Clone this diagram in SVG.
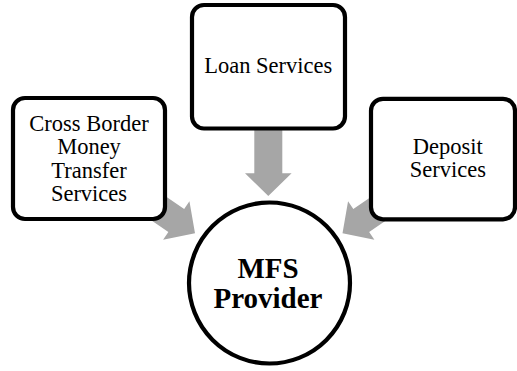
<svg xmlns="http://www.w3.org/2000/svg" width="517" height="371" viewBox="0 0 517 371">
<defs>
<style>
.box{fill:#fff;stroke:#000;stroke-width:4.2}
.t{font-family:"Liberation Serif","Times New Roman",serif;font-size:22.5px;fill:#000;text-anchor:middle}
.b{font-family:"Liberation Serif","Times New Roman",serif;font-size:29px;font-weight:bold;fill:#000;text-anchor:middle}
.arr{fill:#a6a6a6}
</style>
<polygon id="arrow" points="0,0 -22.7,-23.3 -22.7,-14 -75,-14 -75,14 -22.7,14 -22.7,23.3"/>
</defs>
<rect width="517" height="371" fill="#fff"/>
<g id="connectors" class="arr">
<use href="#arrow" transform="translate(268.3,196) rotate(90)"/>
<use href="#arrow" transform="translate(195,233.3) rotate(34.4)"/>
<use href="#arrow" transform="translate(342.5,233.3) rotate(145.6)"/>
</g>
<g id="cross-border">
<rect class="box" x="13" y="98" width="152" height="121" rx="12"/>
<text class="t" x="89" y="131">Cross Border</text>
<text class="t" x="89" y="154.3">Money</text>
<text class="t" x="89" y="177.6">Transfer</text>
<text class="t" x="89" y="201">Services</text>
</g>
<g id="loan">
<rect class="box" x="192" y="5" width="153" height="123.5" rx="12"/>
<text class="t" x="268.3" y="72.7">Loan Services</text>
</g>
<g id="deposit">
<rect class="box" x="371" y="98.8" width="144" height="120.5" rx="12"/>
<text class="t" x="447.8" y="154">Deposit</text>
<text class="t" x="447.8" y="176.7">Services</text>
</g>
<g id="mfs">
<circle class="box" cx="269.5" cy="283" r="80.5"/>
<text class="b" x="268" y="278">MFS</text>
<text class="b" x="268" y="308">Provider</text>
</g>
</svg>
